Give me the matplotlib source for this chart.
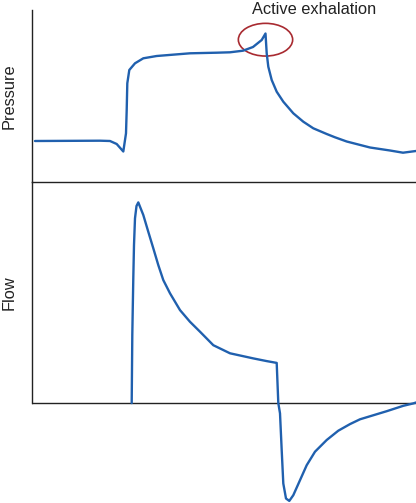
import matplotlib
matplotlib.use("Agg")
import matplotlib.pyplot as plt
from matplotlib.patches import Ellipse

plt.rcParams['font.family'] = ['Liberation Sans', 'DejaVu Sans']

# Pressure waveform (time in s, pressure in arbitrary units)
p_time = [0.03, 0.68, 0.78, 0.847, 0.913, 0.94, 0.947, 0.953, 0.973, 1.03, 1.113, 1.247,
          1.58, 1.847, 1.98, 2.11, 2.21, 2.297, 2.335, 2.347, 2.363, 2.397, 2.447, 2.513,
          2.613, 2.713, 2.813, 2.947, 3.03, 3.147, 3.38, 3.58, 3.71, 3.84]
pressure = [4.10, 4.13, 4.10, 3.80, 3.05, 4.87, 7.20, 9.87, 11.20, 11.87, 12.37, 12.60,
            12.87, 12.93, 12.97, 13.13, 13.50, 14.20, 14.85, 12.87, 11.53, 10.20, 9.03, 8.03,
            6.87, 6.03, 5.37, 4.80, 4.47, 4.05, 3.45, 3.15, 2.93, 3.10]

# Flow waveform
f_time = [0.997, 1.003, 1.007, 1.013, 1.02, 1.03, 1.045, 1.063, 1.113, 1.163, 1.213, 1.263,
          1.313, 1.38, 1.48, 1.58, 1.68, 1.813, 1.98, 2.213, 2.347, 2.447, 2.463, 2.48,
          2.497, 2.513, 2.54, 2.573, 2.613, 2.68, 2.747, 2.83, 2.947, 3.063, 3.18, 3.28,
          3.547, 3.713, 3.813, 3.84]
flow = [0.0, 22.7, 30.4, 41.7, 52.7, 61.6, 65.7, 66.9, 62.7, 57.1, 51.6, 46.0,
        41.0, 36.6, 31.0, 27.1, 23.8, 19.3, 16.6, 14.9, 14.0, 13.4, 0.0, -3.4,
        -15.7, -26.8, -31.8, -32.6, -30.7, -25.7, -20.7, -16.2, -12.3, -9.2, -7.0, -5.4,
        -2.7, -0.9, -0.1, 0.2]

annotation = "Active exhalation"
ylabels = ["Pressure", "Flow"]

W, H = 416, 503
fig = plt.figure(figsize=(W / 100, H / 100), dpi=100)

blue = "#2060ae"
axcol = "#222222"

ax1 = fig.add_axes([32 / W, (H - 182) / H, (W - 32) / W, (182 - 10) / H])
ax2 = fig.add_axes([32 / W, 0, (W - 32) / W, (H - 182) / H])

ax1.plot(p_time, pressure, color=blue, lw=1.7, solid_joinstyle='round', solid_capstyle='round')
ax1.set_xlim(0, 3.84)
ax1.set_ylim(0, 17.2)
for s in ['top', 'right']:
    ax1.spines[s].set_visible(False)
for s in ['left', 'bottom']:
    ax1.spines[s].set_color(axcol)
    ax1.spines[s].set_linewidth(1.0)
ax1.set_xticks([])
ax1.set_yticks([])
ax1.patch.set_alpha(0)

ell = Ellipse((2.335, 14.23), 0.543, 3.27, fill=False, edgecolor="#a82a30", lw=1.2, clip_on=False)
ax1.add_patch(ell)

ax2.plot(f_time, flow, color=blue, lw=1.7, solid_joinstyle='round', solid_capstyle='round', clip_on=False)
ax2.set_xlim(0, 3.84)
ax2.set_ylim(-33.3, 73.7)
for s in ['top', 'right', 'bottom']:
    ax2.spines[s].set_visible(False)
ax2.spines['left'].set_bounds(0, 73.7)
ax2.spines['left'].set_color(axcol)
ax2.spines['left'].set_linewidth(1.0)
ax2.axhline(0, color=axcol, lw=1.0, zorder=1)
ax2.set_xticks([])
ax2.set_yticks([])
ax2.patch.set_alpha(0)

fig.text(314 / W, 1 - 9 / H, annotation, ha='center', va='center', fontsize=11.8, color="#222222")
fig.text(9 / W, 1 - 96 / H, ylabels[0], ha='center', va='center', rotation=90, fontsize=11.8, color="#222222")
fig.text(9 / W, 1 - 292.5 / H, ylabels[1], ha='center', va='center', rotation=90, fontsize=11.8, color="#222222")

fig.savefig("out.png", dpi=100)
